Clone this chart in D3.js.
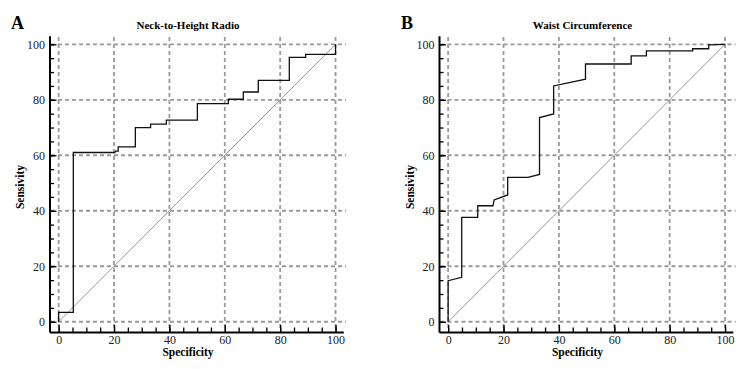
<!DOCTYPE html>
<html>
<head>
<meta charset="utf-8">
<script src="https://cdn.jsdelivr.net/npm/d3@7"></script>
<style>
  html, body { margin: 0; padding: 0; background: #fff; }
  svg { display: block; font-family: "Liberation Serif", "Times New Roman", serif; }
  .grid line { stroke: #9a9a9a; stroke-width: 1.8; stroke-dasharray: 4,3; }
  .axis path, .axis line { stroke: #000; }
  .axis path { stroke-width: 2; }
  .axis line { stroke-width: 1.3; }
  .axis text { font-family: "Liberation Serif", serif; font-size: 12px; fill: #222; }
  .title { font-size: 11px; font-weight: bold; }
  .axis-label { font-size: 11.5px; font-weight: bold; }
  .panel-letter { font-size: 18px; font-weight: bold; }
</style>
</head>
<body>
<svg id="chart" width="742" height="369"></svg>
<script>
// Tick values shared by both panels
const majorTicks = [0, 20, 40, 60, 80, 100];
const minorTicks = d3.range(0, 101, 5);

// Panel A: Neck-to-Height Radio (step curve vertices)
const specA = [0, 0, 5.3, 5.3, 20.3, 20.6, 21.5, 21.5, 27.7, 27.7, 33.2, 33.2, 38.9, 38.9,
  50.1, 50.1, 61.3, 61.3, 66.7, 66.7, 72.1, 72.1, 83.3, 83.3, 89.2, 89.2, 100, 100];
const sensA = [0, 3.4, 3.4, 61, 61, 61.5, 61.5, 63, 63, 70, 70, 71.2, 71.2, 72.7,
  72.7, 78.6, 78.6, 80.2, 80.2, 82.8, 82.8, 87, 87, 95.3, 95.3, 96.4, 96.4, 100];

// Panel B: Waist Circumference
const specB = [0, 0, 4.9, 4.9, 10.7, 10.7, 16.2, 16.6, 21.5, 21.5, 28.8, 33, 33, 38.1,
  38.1, 49.6, 49.6, 66.1, 66.1, 71.6, 71.6, 88.3, 88.3, 94.1, 94.1, 100];
const sensB = [0, 14.8, 16, 37.6, 37.6, 41.8, 41.8, 43.9, 45.7, 52, 52, 53.1, 73.6, 74.9,
  85, 87.4, 92.9, 92.9, 95.8, 95.8, 97.6, 97.6, 98.4, 98.4, 99.8, 100];

const svg = d3.select("#chart");

// Scales share a frame; panels are just shifted horizontally
const x = d3.scaleLinear().domain([-3.3, 102.8]).range([49.5, 343.3]);
const y = d3.scaleLinear().domain([-3.7, 103.1]).range([332, 35.7]);

function drawPanel(offsetX, opts) {
  const g = svg.append("g").attr("transform", `translate(${offsetX},0)`);

  // Dashed grid
  const grid = g.append("g").attr("class", "grid");
  grid.selectAll("line.v").data(majorTicks).join("line")
    .attr("class", "v")
    .attr("x1", (d) => x(d)).attr("x2", (d) => x(d))
    .attr("y1", 37).attr("y2", 331);
  grid.selectAll("line.h").data(majorTicks).join("line")
    .attr("class", "h")
    .attr("x1", 51).attr("x2", 346)
    .attr("y1", (d) => y(d)).attr("y2", (d) => y(d));

  // Chance diagonal
  g.append("line")
    .attr("x1", x(0)).attr("y1", y(0))
    .attr("x2", x(100)).attr("y2", y(100))
    .attr("stroke", "#8a8a8a").attr("stroke-width", 0.9);

  // ROC curve
  const pts = opts.spec.map((s, i) => [s, opts.sens[i]]);
  g.append("path")
    .datum(pts)
    .attr("fill", "none")
    .attr("stroke", "#111")
    .attr("stroke-width", 1.3)
    .attr("d", d3.line().x((d) => x(d[0])).y((d) => y(d[1])));

  // Axes: minor ticks every 5, longer major ticks with labels
  const xAxisG = g.append("g").attr("class", "axis").attr("transform", `translate(0, ${y.range()[0]})`);
  xAxisG.call(d3.axisBottom(x).tickValues(minorTicks).tickSize(-4.5).tickSizeOuter(0).tickFormat(""));
  xAxisG.append("g").call(d3.axisBottom(x).tickValues(majorTicks).tickSize(-7).tickPadding(3))
    .call((s) => s.select(".domain").remove());

  const yAxisG = g.append("g").attr("class", "axis").attr("transform", `translate(${x.range()[0]}, 0)`);
  yAxisG.call(d3.axisLeft(y).tickValues(minorTicks).tickSize(-4.5).tickSizeOuter(0).tickFormat(""));
  yAxisG.append("g").call(d3.axisLeft(y).tickValues(majorTicks).tickSize(-7).tickPadding(4.5))
    .call((s) => s.select(".domain").remove());

  g.append("text").attr("class", "title")
    .attr("x", opts.titleX).attr("y", 29)
    .attr("text-anchor", "middle")
    .text(opts.title);

  g.append("text").attr("class", "axis-label")
    .attr("x", opts.xLabelX).attr("y", 356)
    .attr("text-anchor", "middle")
    .text("Specificity");

  g.append("text").attr("class", "axis-label")
    .attr("transform", `translate(24, ${y(50) + 4}) rotate(-90)`)
    .attr("text-anchor", "middle")
    .text("Sensivity");

  svg.append("text").attr("class", "panel-letter")
    .attr("x", opts.letterX).attr("y", 29)
    .text(opts.letter);
}

drawPanel(0, { spec: specA, sens: sensA, title: "Neck-to-Height Radio", titleX: 188, xLabelX: 188, letter: "A", letterX: 11 });
drawPanel(389.5, { spec: specB, sens: sensB, title: "Waist Circumference", titleX: 193, xLabelX: 188, letter: "B", letterX: 401 });
</script>
</body>
</html>
